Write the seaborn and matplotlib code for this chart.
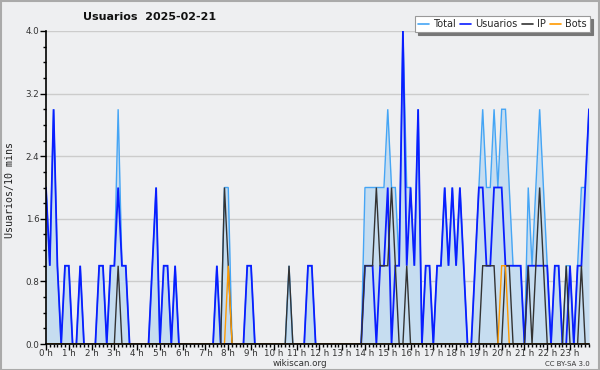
import numpy as np
import pandas as pd
import matplotlib
matplotlib.use("Agg")
import matplotlib.pyplot as plt
from matplotlib.patches import Rectangle
from matplotlib.ticker import MultipleLocator
import seaborn as sns

# ---- data (10-minute intervals, 144 per day) ----
hour_labels = [f"{h} h" for h in range(24)]
series_names = ["Total", "Usuarios", "IP", "Bots"]

usuarios = [2, 1, 3, 1, 0, 1, 1, 0, 0, 1, 0, 0, 0, 0, 1, 1, 0, 1, 1, 2, 1, 1, 0, 0,
            0, 0, 0, 0, 1, 2, 0, 1, 1, 0, 1, 0, 0, 0, 0, 0, 0, 0, 0, 0, 0, 1, 0, 0,
            0, 0, 0, 0, 0, 1, 1, 0, 0, 0, 0, 0, 0, 0, 0, 0, 0, 0, 0, 0, 0, 1, 1, 0,
            0, 0, 0, 0, 0, 0, 0, 0, 0, 0, 0, 0, 1, 1, 1, 0, 1, 1, 2, 0, 1, 1, 4, 1,
            2, 1, 3, 0, 1, 1, 0, 1, 1, 2, 1, 2, 1, 2, 1, 0, 0, 1, 2, 2, 1, 1, 2, 2,
            2, 1, 1, 1, 1, 1, 0, 1, 1, 1, 1, 1, 1, 0, 1, 1, 0, 0, 1, 0, 1, 1, 2, 3]

ip = [0, 0, 0, 0, 0, 0, 0, 0, 0, 0, 0, 0, 0, 0, 0, 0, 0, 0, 0, 1, 0, 0, 0, 0,
      0, 0, 0, 0, 0, 0, 0, 0, 0, 0, 0, 0, 0, 0, 0, 0, 0, 0, 0, 0, 0, 0, 0, 2,
      1, 0, 0, 0, 0, 0, 0, 0, 0, 0, 0, 0, 0, 0, 0, 0, 1, 0, 0, 0, 0, 0, 0, 0,
      0, 0, 0, 0, 0, 0, 0, 0, 0, 0, 0, 0, 1, 1, 1, 2, 1, 1, 1, 2, 1, 0, 0, 1,
      0, 0, 0, 0, 0, 0, 0, 0, 0, 0, 0, 0, 0, 0, 0, 0, 0, 0, 0, 1, 1, 1, 1, 0,
      0, 1, 1, 0, 0, 0, 0, 1, 0, 1, 2, 1, 0, 0, 0, 0, 0, 1, 0, 0, 0, 1, 0, 0]

bots = [0, 0, 0, 0, 0, 0, 0, 0, 0, 0, 0, 0, 0, 0, 0, 0, 0, 0, 0, 0, 0, 0, 0, 0,
        0, 0, 0, 0, 0, 0, 0, 0, 0, 0, 0, 0, 0, 0, 0, 0, 0, 0, 0, 0, 0, 0, 0, 0,
        1, 0, 0, 0, 0, 0, 0, 0, 0, 0, 0, 0, 0, 0, 0, 0, 0, 0, 0, 0, 0, 0, 0, 0,
        0, 0, 0, 0, 0, 0, 0, 0, 0, 0, 0, 0, 0, 0, 0, 0, 0, 0, 0, 0, 0, 0, 0, 0,
        0, 0, 0, 0, 0, 0, 0, 0, 0, 0, 0, 0, 0, 0, 0, 0, 0, 0, 0, 0, 0, 0, 0, 0,
        1, 1, 0, 0, 0, 0, 0, 0, 0, 0, 0, 0, 0, 0, 0, 0, 0, 0, 0, 0, 0, 0, 0, 0]

total = [2, 1, 3, 1, 0, 1, 1, 0, 0, 1, 0, 0, 0, 0, 1, 1, 0, 1, 1, 3, 1, 1, 0, 0,
         0, 0, 0, 0, 1, 2, 0, 1, 1, 0, 1, 0, 0, 0, 0, 0, 0, 0, 0, 0, 0, 1, 0, 2,
         2, 0, 0, 0, 0, 1, 1, 0, 0, 0, 0, 0, 0, 0, 0, 0, 1, 0, 0, 0, 0, 1, 1, 0,
         0, 0, 0, 0, 0, 0, 0, 0, 0, 0, 0, 0, 2, 2, 2, 2, 2, 2, 3, 2, 2, 1, 4, 2,
         2, 1, 3, 0, 1, 1, 0, 1, 1, 2, 1, 2, 1, 2, 1, 0, 0, 1, 2, 3, 2, 2, 3, 2,
         3, 3, 2, 1, 1, 1, 0, 2, 1, 2, 3, 2, 1, 0, 1, 1, 0, 1, 1, 0, 1, 2, 2, 3]

colors = {"Total": "#45a5f5", "Usuarios": "#0a1eff", "IP": "#333333", "Bots": "#ff9a00"}
fill_color = "#c6ddf0"
bg = "#eeeff1"

n = len(total)
slot = np.arange(n)
df = pd.DataFrame({"slot": np.tile(slot, 4),
                   "value": np.concatenate([total, usuarios, ip, bots]),
                   "serie": np.repeat(series_names, n)})

sns.set_style("ticks")
plt.rcParams["font.family"] = ["DejaVu Sans"]

fig = plt.figure(figsize=(6.0, 3.7), dpi=100, facecolor=bg)
ax = fig.add_axes([46 / 600, 1 - 344 / 370, (589 - 46) / 600, (344 - 31) / 370])
ax.set_facecolor(bg)

ax.fill_between(slot, total, 0, color=fill_color, lw=0, zorder=1)
sns.lineplot(data=df, x="slot", y="value", hue="serie", hue_order=series_names,
             palette=colors, ax=ax, legend=False, linewidth=1.1, zorder=3,
             estimator=None, sort=False)
for ln, name in zip(ax.lines, series_names):
    ln.set_linewidth(1.3 if name == "Usuarios" else 1.0)
    ln.set_solid_joinstyle("miter")

ax.set_xlim(0, n - 1)
ax.set_ylim(0, 4.0)
ax.set_xticks(np.arange(0, n, 6))
ax.set_xticklabels(hour_labels)
ax.xaxis.set_minor_locator(MultipleLocator(1))
ax.set_yticks([0.0, 0.8, 1.6, 2.4, 3.2, 4.0])
ax.set_yticklabels(["0.0", "0.8", "1.6", "2.4", "3.2", "4.0"])
ax.yaxis.set_minor_locator(MultipleLocator(0.2))
ax.tick_params(axis="both", which="major", direction="out", length=4, width=1,
               labelsize=6.3, colors="black", labelcolor="#333333", pad=0.8)
ax.tick_params(axis="x", which="major", pad=-0.5)
ax.tick_params(axis="both", which="minor", direction="out", length=2.5, width=1,
               colors="black")
ax.grid(axis="y", which="major", color="#cccccc", lw=1, zorder=0)
ax.set_axisbelow(True)
for s in ["top", "right"]:
    ax.spines[s].set_visible(False)
for s in ["left", "bottom"]:
    ax.spines[s].set_color("black")
    ax.spines[s].set_linewidth(1.2)
    ax.spines[s].set_zorder(6)
ax.set_xlabel("")
ax.set_ylabel("")

fig.text(10 / 600, 1 - 190 / 370, "Usuarios/10 mins", rotation=90, ha="center",
         va="center", fontsize=7.2, family="DejaVu Sans Mono", color="#222222")
fig.text(150 / 600, 1 - 17 / 370, "Usuarios  2025-02-21", ha="center", va="center",
         fontsize=8, fontweight="bold", color="#111111")
fig.text(300 / 600, 1 - 363.5 / 370, "wikiscan.org", ha="center", va="center",
         fontsize=6.3, color="#333333")
fig.text(590 / 600, 1 - 363.5 / 370, "CC BY-SA 3.0", ha="right", va="center",
         fontsize=5, color="#333333")

handles = [plt.Line2D([], [], color=colors[s], lw=1.2) for s in series_names]
leg = fig.legend(handles, series_names, loc="upper right",
                 bbox_to_anchor=(590 / 600, 1 - 16 / 370), ncol=4, fontsize=7,
                 frameon=True, fancybox=False, handlelength=1.1, handletextpad=0.45,
                 columnspacing=0.45, borderpad=0.3, borderaxespad=0,
                 shadow={"color": "#777777", "alpha": 1})
leg.get_frame().set_edgecolor("#999999")
leg.get_frame().set_facecolor("white")
leg.get_frame().set_linewidth(0.8)

fig.patches.append(Rectangle((0.001, 0.001), 0.998, 0.997, transform=fig.transFigure,
                             fill=False, edgecolor="#aaaaaa", lw=1.5))

fig.savefig("out.png", dpi=100, facecolor=bg)
